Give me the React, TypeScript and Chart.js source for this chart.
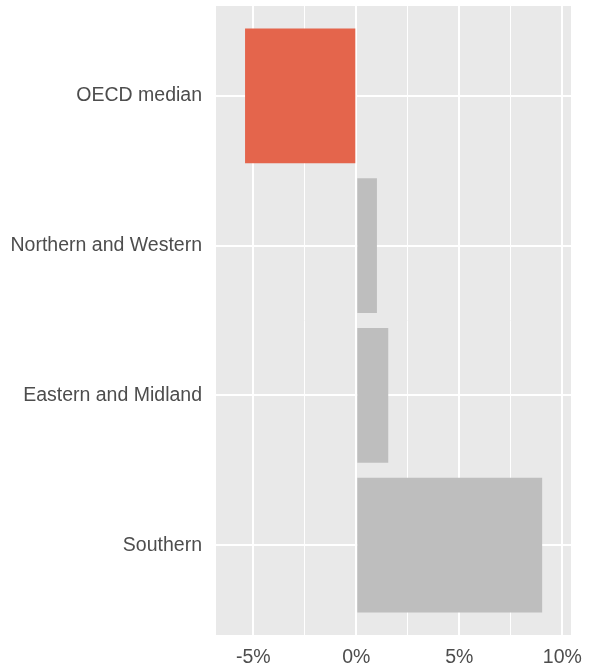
import React, { useEffect, useRef } from "react";
import { Chart, registerables } from "chart.js";

Chart.register(...registerables);

const categories = ["OECD median", "Northern and Western", "Eastern and Midland", "Southern"];
const values = [-5.4, 1.0, 1.55, 9.02];
const barColors = ["#E4654C", "#BEBEBE", "#BEBEBE", "#BEBEBE"];
const xTickValues = [-5, -2.5, 0, 2.5, 5, 7.5, 10];
const xMin = -6.81;
const xMax = 10.42;

const FONT = "'Liberation Sans', Arial, Helvetica, sans-serif";
const FONT_SIZE = 19.5;

export default function App() {
  const ref = useRef<HTMLCanvasElement | null>(null);

  useEffect(() => {
    if (!ref.current) return;
    const bgPlugin = {
      id: "panelBg",
      beforeDraw(chart: any) {
        const { ctx, chartArea } = chart;
        ctx.save();
        ctx.fillStyle = "#E9E9E9";
        ctx.fillRect(chartArea.left, chartArea.top, chartArea.right - chartArea.left, chartArea.bottom - chartArea.top);
        ctx.restore();
      },
    };
    const chart = new Chart(ref.current, {
      type: "bar",
      data: {
        datasets: [
          {
            data: values.map((v, i) => ({ x: v, y: i })),
            backgroundColor: barColors,
            borderWidth: 0,
            barPercentage: 0.9,
            categoryPercentage: 1,
          },
        ],
      },
      options: {
        indexAxis: "y",
        responsive: false,
        animation: false,
        layout: { padding: { top: 6, right: 21, left: 0, bottom: 0 } },
        plugins: { legend: { display: false }, tooltip: { enabled: false } },
        scales: {
          x: {
            type: "linear",
            min: xMin,
            max: xMax,
            offset: false,
            afterBuildTicks: (s: any) => {
              s.ticks = xTickValues.map((v) => ({ value: v }));
            },
            afterFit: (s: any) => {
              s.height = 35;
              s.paddingLeft = 0;
              s.paddingRight = 0;
            },
            border: { display: false },
            grid: {
              offset: false,
              color: "#FFFFFF",
              lineWidth: (c: any) => (c.tick && Math.abs(c.tick.value % 5) < 1e-9 ? 2 : 1),
              drawTicks: false,
            },
            ticks: {
              autoSkip: false,
              maxRotation: 0,
              padding: 11,
              color: "#4D4D4D",
              font: { family: FONT, size: FONT_SIZE },
              callback: (v: any) => (Math.abs(Number(v) % 5) < 1e-9 ? `${v}%` : ""),
            },
          },
          y: {
            type: "linear",
            min: -0.6,
            max: 3.6,
            reverse: true,
            offset: false,
            afterBuildTicks: (s: any) => {
              s.ticks = categories.map((_, i) => ({ value: i }));
            },
            afterFit: (s: any) => {
              s.width = 216;
              s.paddingTop = 0;
              s.paddingBottom = 0;
            },
            border: { display: false },
            grid: { offset: false, color: "#FFFFFF", lineWidth: 2, drawTicks: false },
            ticks: {
              autoSkip: false,
              padding: 14,
              color: "#4D4D4D",
              font: { family: FONT, size: FONT_SIZE },
              callback: (v: any) => categories[Number(v)] ?? "",
            },
          },
        },
      },
      plugins: [bgPlugin],
    } as any);
    return () => chart.destroy();
  }, []);

  return (
    <div style={{ position: "fixed", left: 0, top: 0, width: 592, height: 670, background: "#fff" }}>
      <canvas ref={ref} width={592} height={670} style={{ display: "block" }} />
    </div>
  );
}
